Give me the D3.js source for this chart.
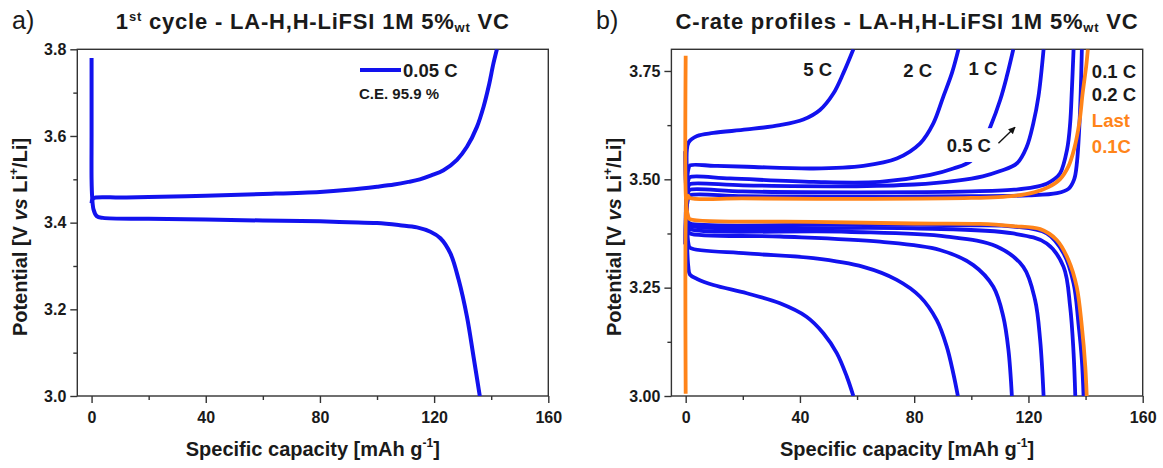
<!DOCTYPE html>
<html>
<head>
<meta charset="utf-8">
<script src="https://cdn.jsdelivr.net/npm/d3@7"></script>
<style>
  body { margin: 0; background: #fff; }
  svg { display: block; font-family: "Liberation Sans", Arial, sans-serif; }
  .axis text { font-size: 16px; font-weight: bold; fill: #1a1a1a; }
  .axis line { stroke: #333; stroke-width: 1.4; }
  .axis path { display: none; }
</style>
</head>
<body>
<svg class="profiles"></svg>
<script>
// panel a) first cycle at 0.05 C  [capacity mAh/g, potential V]
let cycle1Charge = [[0,3.445],[0.4,3.455],[1.5,3.458],[10,3.458],[20,3.459],[40,3.462],[60,3.466],[80,3.471],[90,3.476],[100,3.483],[106,3.488],[111,3.494],[115,3.50],[119,3.509],[123.3,3.521],[128,3.545],[131.5,3.575],[135,3.621],[137.3,3.667],[139.1,3.714],[140.8,3.768],[142,3.80]]
let cycle1Discharge = [[0,3.78],[0,3.60],[0,3.50],[0.2,3.46],[0.7,3.43],[1.8,3.415],[4,3.411],[20,3.409],[40,3.407],[60,3.405],[80,3.403],[90,3.401],[100,3.399],[108,3.394],[114,3.389],[118.7,3.379],[122.2,3.364],[125.7,3.329],[128.6,3.268],[131.5,3.183],[133.8,3.091],[136,3.0]]

// panel b) C-rate profiles
let rate5Charge = [[0,3.35],[0.3,3.52],[1,3.585],[4,3.60],[9.7,3.607],[21.4,3.615],[33,3.625],[41.2,3.638],[47,3.66],[51.7,3.698],[55.2,3.745],[58.7,3.80]]
let rate5Discharge = [[0,3.565],[0.3,3.40],[0.9,3.30],[1.5,3.28],[4,3.27],[9.7,3.256],[21.4,3.237],[33,3.214],[42.3,3.183],[48.2,3.145],[52.9,3.099],[56.4,3.045],[58.7,3.0]]
let rate2Charge = [[0,3.35],[0.3,3.48],[1,3.525],[1.5,3.532],[10,3.531],[21.4,3.529],[44.7,3.525],[62.2,3.531],[73.9,3.548],[82.1,3.583],[86.7,3.629],[90.2,3.691],[93.2,3.745],[95.5,3.80]]
let rate2Discharge = [[0,3.565],[0.3,3.42],[1,3.35],[1.5,3.342],[21.4,3.329],[44.7,3.318],[62.2,3.298],[73.9,3.268],[82.1,3.229],[87.9,3.175],[91.4,3.114],[93.7,3.052],[95.3,3.0]]
let rate1Charge = [[0,3.35],[0.3,3.46],[1,3.50],[1.5,3.505],[15.5,3.502],[44.7,3.494],[68,3.494],[85.6,3.51],[93.7,3.525],[99.6,3.541],[103.5,3.575],[106.6,3.62],[110.1,3.683],[112.4,3.737],[114.7,3.80]]
let rate1Discharge = [[0,3.565],[0.3,3.43],[1,3.38],[1.5,3.375],[33,3.368],[68,3.356],[89,3.337],[100.7,3.302],[107.7,3.252],[111.2,3.183],[113,3.106],[114.2,3.0]]
let rate05Charge = [[0,3.35],[0.3,3.45],[1,3.485],[1.5,3.489],[20,3.486],[56,3.484],[80,3.488],[95,3.497],[104,3.507],[110.1,3.519],[116,3.537],[119.4,3.575],[121.7,3.629],[123.5,3.691],[125.3,3.80]]
let rate05Discharge = [[0,3.565],[0.3,3.44],[1,3.39],[1.5,3.385],[56.4,3.379],[91.4,3.368],[108.9,3.345],[118.2,3.298],[122.3,3.222],[124.1,3.129],[125.3,3.0]]
let rate02Charge = [[0,3.35],[0.3,3.44],[1,3.472],[1.5,3.476],[20,3.472],[60,3.47],[100,3.472],[115,3.476],[122,3.482],[126.4,3.49],[129,3.50],[131.1,3.514],[133.5,3.568],[134.6,3.629],[135.2,3.706],[135.8,3.80]]
let rate02Discharge = [[0,3.565],[0.3,3.44],[1,3.397],[1.5,3.393],[79.7,3.387],[114.7,3.375],[126.4,3.352],[132.3,3.298],[134.6,3.206],[135.8,3.099],[136.4,3.0]]
let rate01Charge = [[0,3.35],[0.3,3.43],[1,3.458],[1.5,3.463],[20,3.461],[60,3.46],[100,3.461],[120,3.463],[130,3.468],[134,3.478],[136,3.50],[137,3.54],[137.8,3.62],[138.3,3.70],[138.7,3.80]]
let rate01Discharge = [[0,3.565],[0.3,3.44],[1,3.402],[1.5,3.398],[60,3.396],[100,3.394],[114.7,3.391],[126.4,3.375],[132.3,3.329],[135.8,3.26],[137.5,3.168],[138.7,3.083],[139.3,3.0]]
let last01Charge = [[0,3.005],[0,3.40],[0.3,3.45],[0.8,3.462],[1.5,3.457],[20,3.456],[60,3.455],[100,3.457],[115,3.462],[122,3.47],[127,3.482],[131,3.50],[134,3.53],[136,3.57],[137.8,3.63],[139,3.70],[140.2,3.76],[140.8,3.80]]
let last01Discharge = [[0,3.785],[0,3.47],[0.4,3.43],[1,3.412],[1.5,3.408],[44.7,3.402],[79.7,3.398],[103,3.397],[114.7,3.392],[124.1,3.385],[129.9,3.36],[134,3.314],[136.9,3.252],[138.7,3.16],[139.9,3.068],[140.4,3.0]]

// ticks
let xTicks = [0, 40, 80, 120, 160]
let xMinor = [20, 60, 100, 140]
let yTicksA = [3.0, 3.2, 3.4, 3.6, 3.8]
let yMinorA = [3.1, 3.3, 3.5, 3.7]
let yTicksB = [3.0, 3.25, 3.5, 3.75]
let yMinorB = [3.125, 3.375, 3.625]

let rateNames = ["5 C", "2 C", "1 C", "0.5 C", "0.1 C", "0.2 C", "Last", "0.1C"]

let blue = "#1212ee"
let orange = "#ff8419"

let width = 1163, height = 468

let svg = d3.select('.profiles')
    .attr('width', width)
    .attr('height', height)

// both panels share the same value ranges
let xA = d3.scaleLinear().domain([-5, 160]).range([77.3, 548.3])
let xB = d3.scaleLinear().domain([-5, 160]).range([671.4, 1142.7])
let y = d3.scaleLinear().domain([3.0, 3.8]).range([396, 49.3])

let line = (x) => d3.line()
    .x(d => x(d[0]))
    .y(d => y(d[1]))
    .curve(d3.curveCatmullRom.alpha(0.5))

function drawAxes(x, yTicks, yMinor, fmt) {
  let g = svg.append('g')
  g.append('g').attr('class', 'axis')
      .attr('transform', 'translate(0,' + y.range()[0] + ')')
      .call(d3.axisBottom(x).tickValues(xTicks).tickSize(7).tickSizeOuter(0).tickPadding(9))
  g.append('g').attr('class', 'axis')
      .attr('transform', 'translate(0,' + y.range()[0] + ')')
      .call(d3.axisBottom(x).tickValues(xMinor).tickSize(4).tickSizeOuter(0).tickFormat(''))
  g.append('g').attr('class', 'axis')
      .attr('transform', 'translate(' + x.range()[0] + ',0)')
      .call(d3.axisLeft(y).tickValues(yTicks).tickSize(7).tickSizeOuter(0).tickPadding(4).tickFormat(d3.format(fmt)))
  g.append('g').attr('class', 'axis')
      .attr('transform', 'translate(' + x.range()[0] + ',0)')
      .call(d3.axisLeft(y).tickValues(yMinor).tickSize(4).tickSizeOuter(0).tickFormat(''))
  // frame
  g.append('rect')
      .attr('x', x.range()[0]).attr('y', y.range()[1])
      .attr('width', x.range()[1] - x.range()[0])
      .attr('height', y.range()[0] - y.range()[1])
      .attr('fill', 'none').attr('stroke', '#333').attr('stroke-width', 1.4)

  // axis titles
  let cx = (x.range()[0] + x.range()[1]) / 2
  let xt = g.append('text')
      .attr('x', cx).attr('y', 456)
      .attr('text-anchor', 'middle')
      .attr('font-size', 20).attr('font-weight', 'bold').attr('fill', '#1a1a1a')
  xt.append('tspan').text('Specific capacity [mAh g')
  xt.append('tspan').attr('font-size', 12).attr('dy', -9).text('-1')
  xt.append('tspan').attr('dy', 9).text(']')

  let yt = g.append('text')
      .attr('transform', 'translate(' + (x.range()[0] - 50.5) + ',237) rotate(-90)')
      .attr('text-anchor', 'middle')
      .attr('font-size', 20).attr('font-weight', 'bold').attr('fill', '#1a1a1a')
  yt.append('tspan').text('Potential [V ')
  yt.append('tspan').attr('font-style', 'italic').text('vs')
  yt.append('tspan').text(' Li')
  yt.append('tspan').attr('font-size', 12).attr('dy', -9).text('+')
  yt.append('tspan').attr('dy', 9).text('/Li]')
}

function drawTitle(cx, letter, lx, parts) {
  svg.append('text')
      .attr('x', lx).attr('y', 29)
      .attr('font-size', 25).attr('fill', '#1a1a1a')
      .text(letter)
  let t = svg.append('text')
      .attr('x', cx).attr('y', 29)
      .attr('text-anchor', 'middle')
      .attr('font-size', 22).attr('font-weight', 'bold')
      .attr('letter-spacing', 0.8).attr('fill', '#1a1a1a')
  parts.forEach(p => {
    t.append('tspan').attr('font-size', p.size || 22).attr('dy', p.dy || 0).text(p.text)
  })
}

drawAxes(xA, yTicksA, yMinorA, '.1f')
drawAxes(xB, yTicksB, yMinorB, '.2f')

drawTitle(312.8, 'a)', 12, [
  {text: '1'}, {text: 'st', size: 13, dy: -8},
  {text: ' cycle - LA-H,H-LiFSI 1M 5%', dy: 8},
  {text: 'wt', size: 13, dy: 3}, {text: ' VC', dy: -3}
])
drawTitle(907, 'b)', 596, [
  {text: 'C-rate profiles - LA-H,H-LiFSI 1M 5%'},
  {text: 'wt', size: 13, dy: 3}, {text: ' VC', dy: -3}
])

// clip curves to frames
svg.append('clipPath').attr('id', 'clipA').append('rect')
    .attr('x', xA.range()[0]).attr('y', y.range()[1])
    .attr('width', xA.range()[1] - xA.range()[0]).attr('height', y.range()[0] - y.range()[1])
svg.append('clipPath').attr('id', 'clipB').append('rect')
    .attr('x', xB.range()[0]).attr('y', y.range()[1])
    .attr('width', xB.range()[1] - xB.range()[0]).attr('height', y.range()[0] - y.range()[1])

// panel a curves
let curvesA = svg.append('g').attr('clip-path', 'url(#clipA)')
;[cycle1Charge, cycle1Discharge].forEach(d => {
  curvesA.append('path')
      .attr('d', line(xA)(d))
      .attr('fill', 'none').attr('stroke', blue)
      .attr('stroke-width', 4).attr('stroke-linejoin', 'round')
})

// legend a
svg.append('line')
    .attr('x1', 360).attr('x2', 401).attr('y1', 70).attr('y2', 70)
    .attr('stroke', blue).attr('stroke-width', 4)
svg.append('text')
    .attr('x', 403).attr('y', 76.6)
    .attr('font-size', 18.5).attr('font-weight', 'bold').attr('fill', '#1a1a1a')
    .text('0.05 C')
svg.append('text')
    .attr('x', 359).attr('y', 98.7)
    .attr('font-size', 15).attr('font-weight', 'bold').attr('fill', '#1a1a1a')
    .text('C.E. 95.9 %')

// panel b curves, orange drawn last
let seriesB = [
  rate5Charge, rate5Discharge, rate2Charge, rate2Discharge,
  rate1Charge, rate1Discharge, rate05Charge, rate05Discharge,
  rate02Charge, rate02Discharge, rate01Charge, rate01Discharge
].map(d => ({ data: d, color: blue }))
  .concat([last01Charge, last01Discharge].map(d => ({ data: d, color: orange })))

let curvesB = svg.append('g').attr('clip-path', 'url(#clipB)')
curvesB.selectAll('.curve')
    .data(seriesB)
    .enter()
    .append('path')
    .attr('class', 'curve')
    .attr('d', d => line(xB)(d.data))
    .attr('fill', 'none')
    .attr('stroke', d => d.color)
    .attr('stroke-width', 3.8)
    .attr('stroke-linejoin', 'round')

// white box behind the 0.5 C label hides part of the 1 C curve
svg.append('rect')
    .attr('x', xB(90.1)).attr('y', y(3.618))
    .attr('width', xB(109) - xB(90.1)).attr('height', y(3.540) - y(3.618))
    .attr('fill', '#fff')

// rate labels, placed in data units
let labelSpots = [[41.2, 3.754], [76.2, 3.751], [99.0, 3.756], [91.4, 3.579],
                  [142.2, 3.748], [142.2, 3.695], [142.2, 3.635], [142.2, 3.575]]
svg.selectAll('.rate-label')
    .data(rateNames)
    .enter()
    .append('text')
    .attr('class', 'rate-label')
    .attr('x', (d, i) => xB(labelSpots[i][0]))
    .attr('y', (d, i) => y(labelSpots[i][1]))
    .attr('dy', '0.36em')
    .attr('font-size', 18.5).attr('font-weight', 'bold')
    .attr('fill', (d, i) => i > 5 ? orange : '#1a1a1a')
    .text(d => d)

// arrow to the 0.5 C curve
svg.append('defs').append('marker')
    .attr('id', 'head').attr('viewBox', '0 0 10 10')
    .attr('refX', 9).attr('refY', 5)
    .attr('markerWidth', 5).attr('markerHeight', 5)
    .attr('orient', 'auto')
    .append('path').attr('d', 'M0,0L10,5L0,10z').attr('fill', '#111')
svg.append('line')
    .attr('x1', xB(109.5)).attr('y1', y(3.583))
    .attr('x2', xB(115.3)).attr('y2', y(3.62))
    .attr('stroke', '#111').attr('stroke-width', 1.4)
    .attr('marker-end', 'url(#head)')
</script>
</body>
</html>
